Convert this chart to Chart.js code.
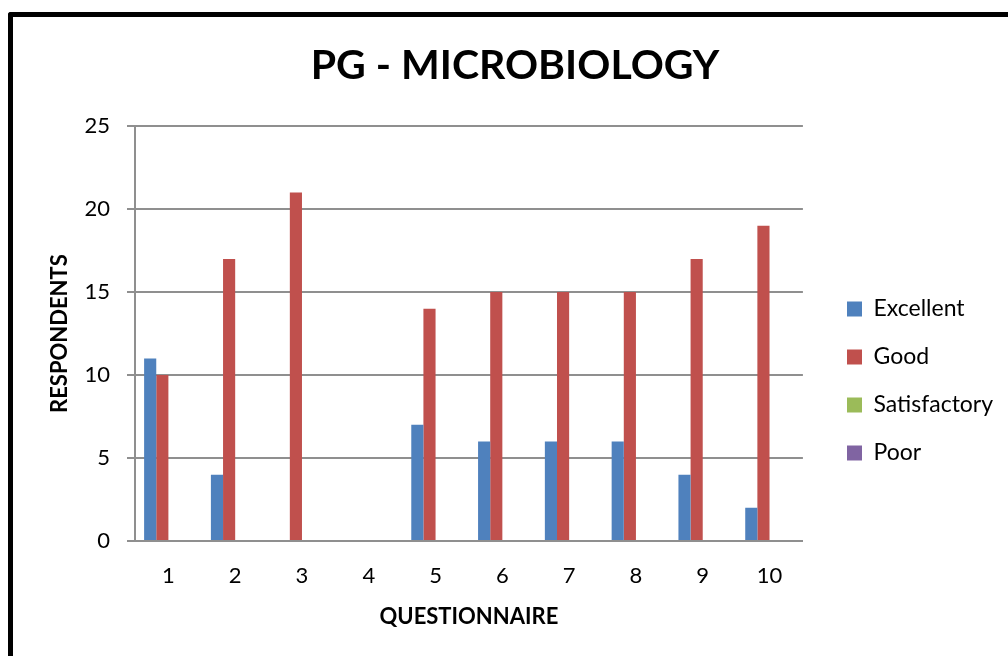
<!DOCTYPE html>
<html>
<head>
<meta charset="utf-8">
<script src="https://cdn.jsdelivr.net/npm/chart.js@4/dist/chart.umd.min.js"></script>
<style>
  body { margin: 0; background: #fff; }
  #wrap { position: relative; width: 1008px; height: 656px; overflow: hidden; }
  #frame { position: absolute; left: 8px; top: 12px; width: 1100px; height: 700px;
           border-left: 5px solid #000; border-top: 5px solid #000; border-radius: 3px 0 0 0; }
  canvas { position: absolute; left: 0; top: 0; }
</style>
</head>
<body>
<div id="wrap">
  <div id="frame"></div>
  <canvas id="myChart" width="1008" height="656"></canvas>
</div>
<script>
'use strict';

const questions = ['1', '2', '3', '4', '5', '6', '7', '8', '9', '10'];
const excellent = [11, 4, 0, 0, 7, 6, 6, 6, 4, 2];
const good = [10, 17, 21, 0, 14, 15, 15, 15, 17, 19];
const satisfactory = [0, 0, 0, 0, 0, 0, 0, 0, 0, 0];
const poor = [0, 0, 0, 0, 0, 0, 0, 0, 0, 0];
const yTicks = [0, 5, 10, 15, 20, 25];

const FONT = 'Lato, "Open Sans", sans-serif';
const gridColor = '#8f8f8f';

// nudge the legend and title to where the original sits
const boxShift = {
    id: 'boxShift',
    afterLayout: function (chart) {
        const lg = chart.legend;
        const dx = 847 - (chart.chartArea.right + 25);
        lg.left = chart.chartArea.right + dx; lg.right += dx;
        lg.top += 53; lg.bottom += 53;
        const t = chart.titleBlock;
        t.left += 12; t.right += 12;
    }
};

document.addEventListener('DOMContentLoaded', function () {
    var ctx = document.getElementById('myChart').getContext('2d');
    var myChart = new Chart(ctx, {
        type: 'bar',
        data: {
            labels: questions,
            datasets: [
                { label: 'Excellent', data: excellent, backgroundColor: '#4F81BD' },
                { label: 'Good', data: good, backgroundColor: '#C0504D' },
                { label: 'Satisfactory', data: satisfactory, backgroundColor: '#9BBB59' },
                { label: 'Poor', data: poor, backgroundColor: '#8064A2' }
            ]
        },
        options: {
            responsive: false,
            animation: false,
            datasets: { bar: { categoryPercentage: 4 / 5.5, barPercentage: 1, borderWidth: 0 } },
            layout: { padding: { left: 22, right: 24, top: 0, bottom: 0 } },
            plugins: {
                title: {
                    display: true,
                    text: 'PG - MICROBIOLOGY',
                    color: '#000',
                    font: { family: FONT, size: 41, weight: 'bold', lineHeight: 1.2 },
                    padding: { top: 41, bottom: 36 }
                },
                legend: {
                    position: 'right',
                    align: 'center',
                    labels: {
                        boxWidth: 15,
                        boxHeight: 15,
                        padding: 25,
                        color: '#000',
                        font: { family: FONT, size: 23 }
                    }
                },
                tooltip: { enabled: false }
            },
            scales: {
                x: {
                    grid: { display: false },
                    border: { display: true, color: gridColor, width: 2 },
                    ticks: { color: '#000', font: { family: FONT, size: 22 }, padding: 14 },
                    title: {
                        display: true,
                        text: 'QUESTIONNAIRE',
                        color: '#000',
                        font: { family: FONT, size: 22, weight: 'bold', lineHeight: 1.2 },
                        padding: { top: 0, bottom: 26 }
                    },
                    afterFit: function (scale) { scale.height = 115; }
                },
                y: {
                    min: 0,
                    max: 25,
                    afterBuildTicks: function (scale) {
                        scale.ticks = yTicks.map(function (v) { return { value: v }; });
                    },
                    grid: { color: gridColor, lineWidth: 2, tickLength: 8 },
                    border: { display: true, color: gridColor, width: 2 },
                    ticks: { color: '#000', font: { family: FONT, size: 22 }, padding: 17 },
                    title: {
                        display: true,
                        text: 'RESPONDENTS',
                        color: '#000',
                        font: { family: FONT, size: 22, weight: 'bold', lineHeight: 1.2 },
                        padding: { top: 25, bottom: 0 }
                    },
                    afterFit: function (scale) { scale.width = 113; }
                }
            }
        },
        plugins: [boxShift]
    });
});
</script>
</body>
</html>
